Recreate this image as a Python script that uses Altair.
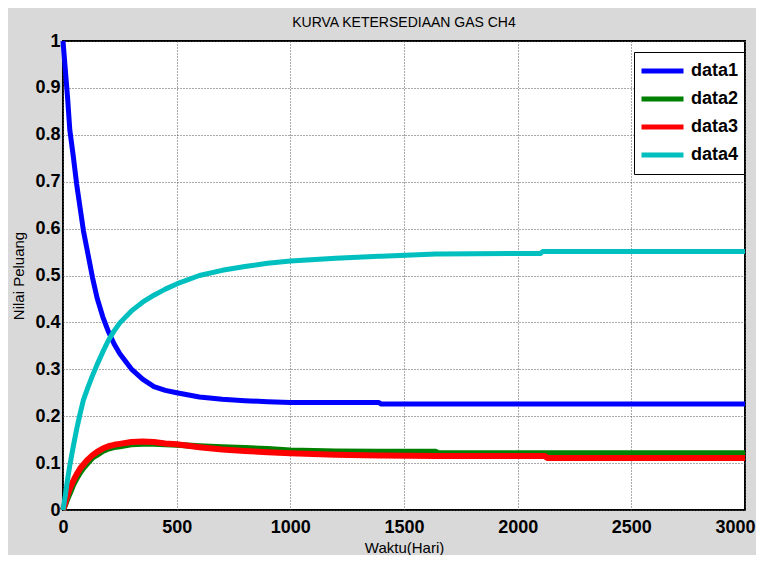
import altair as alt
import pandas as pd

# Time (days)
days = [0, 10, 20, 30, 45, 60, 75, 90, 110, 130, 150, 175, 200, 225, 250, 300, 350,
        400, 450, 500, 600, 700, 800, 900, 1000, 1200, 1390, 1400, 1640, 1650,
        2100, 2110, 2120, 2130, 2500, 3000]

data1 = [1.0, 0.94, 0.88, 0.81, 0.755, 0.695, 0.645, 0.595, 0.545, 0.495, 0.452, 0.412,
         0.38, 0.354, 0.333, 0.301, 0.279, 0.263, 0.255, 0.25, 0.241, 0.236, 0.233,
         0.231, 0.229, 0.229, 0.229, 0.226, 0.226, 0.226, 0.226, 0.226, 0.226, 0.226,
         0.226, 0.226]

data2 = [0.0, 0.012, 0.025, 0.036, 0.054, 0.068, 0.08, 0.09, 0.101, 0.112, 0.118, 0.126,
         0.131, 0.134, 0.136, 0.14, 0.141, 0.141, 0.14, 0.139, 0.136, 0.134, 0.132,
         0.13, 0.127, 0.125, 0.124, 0.124, 0.124, 0.121, 0.121, 0.121, 0.121, 0.121,
         0.121, 0.121]

data3 = [0.0, 0.015, 0.032, 0.046, 0.062, 0.076, 0.088, 0.097, 0.108, 0.117, 0.124, 0.131,
         0.136, 0.139, 0.141, 0.145, 0.146, 0.145, 0.142, 0.14, 0.134, 0.129, 0.126,
         0.123, 0.121, 0.118, 0.116, 0.116, 0.115, 0.115, 0.115, 0.115, 0.115, 0.111,
         0.111, 0.111]

data4 = [0.0, 0.03, 0.065, 0.095, 0.135, 0.172, 0.205, 0.235, 0.262, 0.287, 0.31, 0.337,
         0.362, 0.382, 0.399, 0.424, 0.443, 0.458, 0.471, 0.482, 0.5, 0.511, 0.519,
         0.526, 0.531, 0.537, 0.541, 0.541, 0.546, 0.546, 0.547, 0.551, 0.551, 0.551,
         0.551, 0.551]

series_names = ["data1", "data2", "data3", "data4"]
series_colors = ["#0000ff", "#008000", "#ff0000", "#00bfbf"]
series_widths = [5, 6, 6, 5]
x_ticks = [0, 500, 1000, 1500, 2000, 2500, 3000]
y_ticks = [0, 0.1, 0.2, 0.3, 0.4, 0.5, 0.6, 0.7, 0.8, 0.9, 1]

rows = []
for name, vals, w in zip(series_names, [data1, data2, data3, data4], series_widths):
    for d, v in zip(days, vals):
        rows.append({"Waktu": d, "Nilai": v, "Seri": name, "w": w,
                     "order": series_names.index(name)})
df = pd.DataFrame(rows)

FONT = "Liberation Sans, Arial, sans-serif"

chart = alt.Chart(df).mark_line(strokeCap="butt", strokeJoin="round").encode(
    x=alt.X("Waktu:Q", scale=alt.Scale(domain=[0, 3000], nice=False),
            axis=alt.Axis(title="Waktu(Hari)", values=x_ticks, format="d",
                          labelFont=FONT, labelFontWeight="bold", labelFontSize=18,
                          labelColor="black", labelPadding=8, ticks=False,
                          labelOffset=alt.condition("datum.value == 3000",
                                                    alt.value(-10), alt.value(0)),
                          domain=False, gridColor="#555555", gridDash=[1, 2],
                          gridOpacity=1, gridWidth=1,
                          titleFont=FONT, titleFontWeight="normal", titleFontSize=15,
                          titleColor="black", titlePadding=4, labelFlush=False)),
    y=alt.Y("Nilai:Q", scale=alt.Scale(domain=[0, 1], nice=False),
            axis=alt.Axis(title="Nilai Peluang", values=y_ticks, format="~g",
                          labelFont=FONT, labelFontWeight="bold", labelFontSize=18,
                          labelColor="black", labelPadding=3, ticks=False,
                          domain=False, gridColor="#555555", gridDash=[1, 2],
                          gridOpacity=1, gridWidth=1,
                          titleFont=FONT, titleFontWeight="normal", titleFontSize=15,
                          titleColor="black", titlePadding=8, labelFlush=False)),
    color=alt.Color("Seri:N", scale=alt.Scale(domain=series_names, range=series_colors),
                    legend=alt.Legend(title=None, orient="none", legendX=571, legendY=11,
                                      symbolType="stroke", symbolSize=1764,
                                      symbolStrokeWidth=5, clipHeight=28,
                                      labelFont=FONT, labelFontWeight="bold",
                                      labelFontSize=18, labelColor="black",
                                      labelOffset=5, padding=5, rowPadding=0,
                                      strokeColor="black", fillColor="white",
                                      symbolOffset=0)),
    strokeWidth=alt.StrokeWidth("w:Q", scale=None, legend=None),
    order=alt.Order("order:Q"),
    detail="Seri:N",
).properties(
    width=682,
    height=469,
    title=alt.Title("KURVA KETERSEDIAAN GAS CH4", font=FONT, fontSize=14,
                    fontWeight="normal", color="black", anchor="middle", offset=2),
    background="#d9d9d9",
    padding={"left": 55, "top": 33, "right": 11, "bottom": 45},
    autosize=alt.AutoSizeParams(type="none"),
).configure_view(
    fill="white", stroke="black", strokeWidth=2
)

chart.save("out.html", embed_options={"renderer": "svg", "actions": False})
